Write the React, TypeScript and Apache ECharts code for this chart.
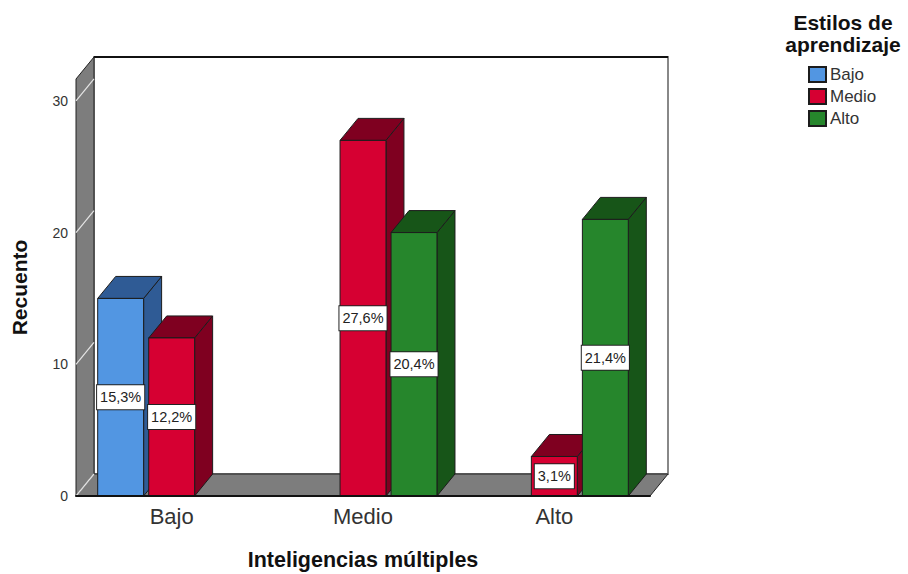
import React, { useEffect, useRef } from "react";
import * as echarts from "echarts";

const categories = ["Bajo", "Medio", "Alto"];
const yTicks = [0, 10, 20, 30];
const seriesNames = ["Bajo", "Medio", "Alto"];
const bajoValues = [15, null, null];
const medioValues = [12, 27, 3];
const altoValues = [null, 20, 21];
const bajoLabels = ["15,3%", null, null];
const medioLabels = ["12,2%", "27,6%", "3,1%"];
const altoLabels = [null, "20,4%", "21,4%"];

const FONT = '"Liberation Sans", Arial, sans-serif';
const DX = 18;
const DY = -22;
const SLOT = 0.2666;
const BAR = 0.24;
const EDGE = "#1c1c1c";

function barSeries(name: string, slot: number, values: (number | null)[], labels: (string | null)[], front: string, side: string) {
  const data = values.map((v, i) => [i, v]).filter((d) => d[1] !== null);
  const labelOf = labels.filter((l) => l !== null);
  return {
    type: "custom",
    name,
    silent: true,
    clip: false,
    itemStyle: { color: front, borderColor: EDGE, borderWidth: 1 },
    encode: { x: 0, y: 1 },
    data,
    renderItem: (params: any, api: any) => {
      const band = api.size([1, 0])[0];
      const [cx, y] = api.coord([api.value(0), api.value(1)]);
      const [, y0] = api.coord([api.value(0), 0]);
      const w = band * BAR;
      const x = cx + slot * band * SLOT - w / 2;
      const line = { stroke: EDGE, lineWidth: 1 };
      return {
        type: "group",
        children: [
          {
            type: "polygon",
            shape: { points: [[x + w, y], [x + w + DX, y + DY], [x + w + DX, y0 + DY], [x + w, y0]] },
            style: { fill: side, ...line },
          },
          {
            type: "polygon",
            shape: { points: [[x, y], [x + DX, y + DY], [x + w + DX, y + DY], [x + w, y]] },
            style: { fill: side, ...line },
          },
          {
            type: "rect",
            shape: { x, y, width: w, height: y0 - y },
            style: { fill: front, ...line },
          },
          {
            type: "text",
            style: {
              text: labelOf[params.dataIndex],
              x: x + w / 2,
              y: (y + y0) / 2,
              align: "center",
              verticalAlign: "middle",
              font: `14.5px ${FONT}`,
              fill: "#222",
              backgroundColor: "#fff",
              borderColor: "#222",
              borderWidth: 1,
              padding: [5, 3, 4, 3],
            },
          },
        ],
      };
    },
  };
}

const wallSeries = {
  type: "custom",
  silent: true,
  clip: false,
  data: [[0, 0]],
  encode: { x: 0, y: 1 },
  renderItem: (params: any, api: any) => {
    const { x, y, width, height } = params.coordSys;
    const b = y + height;
    const r = x + width;
    const fill = "#7d7d7d";
    return {
      type: "group",
      children: [
        {
          type: "rect",
          shape: { x: x + DX, y: y + DY, width, height },
          style: { fill: "#fff", stroke: "#888", lineWidth: 2 },
        },
        {
          type: "line",
          shape: { x1: x + DX, y1: y + DY, x2: r + DX, y2: y + DY },
          style: { stroke: "#111", lineWidth: 2 },
        },
        {
          type: "polygon",
          shape: { points: [[x, b], [x + DX, b + DY], [r + DX, b + DY], [r, b]] },
          style: { fill, stroke: "#222", lineWidth: 1 },
        },
        {
          type: "polygon",
          shape: { points: [[x, b], [x, y], [x + DX, y + DY], [x + DX, b + DY]] },
          style: { fill, stroke: "#222", lineWidth: 1 },
        },
        ...yTicks.map((v) => {
          const py = api.coord([0, v])[1];
          return {
            type: "line",
            shape: { x1: x, y1: py, x2: x + DX, y2: py + DY },
            style: { stroke: "#e6e6e6", lineWidth: 1.2 },
          };
        }),
      ],
    };
  },
};

export default function App() {
  const ref = useRef<HTMLDivElement>(null);
  useEffect(() => {
    document.body.style.margin = "0";
    const chart = echarts.init(ref.current!, null, { renderer: "svg" });
    chart.setOption({
      animation: false,
      backgroundColor: "#fff",
      textStyle: { fontFamily: FONT },
      title: {
        text: "Estilos de\naprendizaje",
        left: 843,
        top: 11,
        padding: 0,
        textAlign: "center",
        textStyle: { fontFamily: FONT, fontSize: 21, fontWeight: "bold", color: "#111", lineHeight: 22 },
      },
      legend: {
        left: 808,
        top: 66,
        padding: 0,
        orient: "vertical",
        itemWidth: 17,
        itemHeight: 15,
        itemGap: 5,
        icon: "rect",
        textStyle: { fontFamily: FONT, fontSize: 17, color: "#333", padding: [1, 0, 0, -1] },
        data: seriesNames,
      },
      grid: { left: 76, top: 79, width: 574, height: 417, outerBoundsMode: "none" },
      xAxis: {
        type: "category",
        data: categories,
        z: 5,
        axisLine: { show: true, lineStyle: { color: "#111", width: 2 } },
        axisTick: { show: false },
        axisLabel: { fontSize: 22, color: "#333", margin: 9, fontFamily: FONT },
        name: "Inteligencias múltiples",
        nameLocation: "middle",
        nameGap: 53,
        nameTextStyle: { fontSize: 21.5, fontWeight: "bold", color: "#111", fontFamily: FONT },
      },
      yAxis: {
        type: "value",
        min: 0,
        max: 31.66,
        interval: 10,
        axisLine: { show: false },
        axisTick: { show: false },
        splitLine: { show: false },
        axisLabel: { fontSize: 14, color: "#333", margin: 8, showMaxLabel: false, fontFamily: FONT },
        name: "Recuento",
        nameLocation: "middle",
        nameGap: 46,
        nameTextStyle: { fontSize: 21, fontWeight: "bold", color: "#111", fontFamily: FONT },
      },
      series: [
        wallSeries,
        barSeries(seriesNames[0], -1, bajoValues, bajoLabels, "#5296e2", "#2f5b95"),
        barSeries(seriesNames[1], 0, medioValues, medioLabels, "#d60032", "#7f0020"),
        barSeries(seriesNames[2], 1, altoValues, altoLabels, "#26862c", "#175518"),
      ],
    });
    return () => chart.dispose();
  }, []);
  return <div ref={ref} style={{ width: 908, height: 574 }} />;
}
